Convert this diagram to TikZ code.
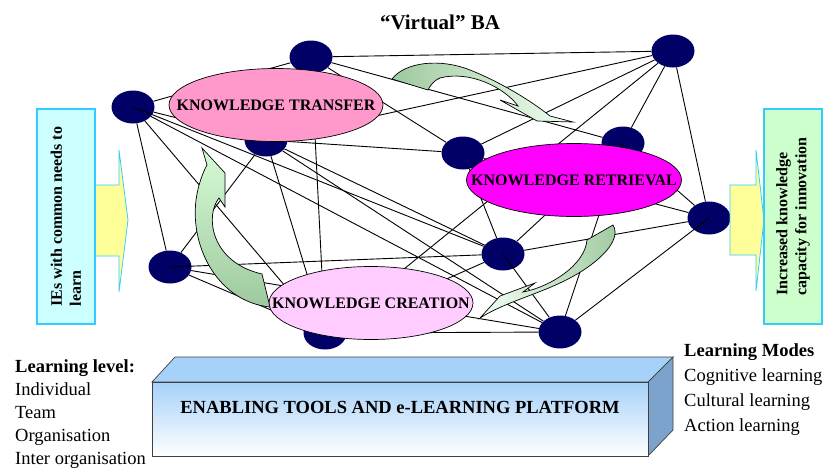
\documentclass[tikz,border=0pt]{standalone}
\usepackage{fontspec}
\setmainfont{Liberation Serif}
\usetikzlibrary{shapes.geometric}

\definecolor{navy}{HTML}{000066}
\definecolor{ktpink}{HTML}{FF99CC}
\definecolor{krmagenta}{HTML}{FF00FF}
\definecolor{kcpink}{HTML}{FFCCFF}
\definecolor{boxcyan}{HTML}{CCFFFF}
\definecolor{boxgreen}{HTML}{CCFFCC}
\definecolor{edgecyan}{HTML}{33CCFF}
\definecolor{arrowyellow}{HTML}{FFFF99}
\definecolor{gdark}{HTML}{9EC99E}
\definecolor{glight}{HTML}{F2FFF2}
\definecolor{gpale}{HTML}{D6FBD6}
\definecolor{platblue}{HTML}{A6D1F9}
\definecolor{platside}{HTML}{7BA3CC}

\begin{document}
\begin{tikzpicture}[x=1pt, y=-1pt,
    every node/.style={inner sep=0pt},
    peer/.style={ellipse, fill=navy, minimum width=43pt, minimum height=33pt},
    link/.style={line width=0.9pt},
    bubble/.style={ellipse, draw, line width=0.7pt, minimum height=73pt},
    blabel/.style={font=\fontsize{16}{19}\selectfont\bfseries},
    sidebox/.style={draw=edgecyan, line width=1.2pt, rotate=90, minimum width=215pt,
        minimum height=58pt, align=left, font=\fontsize{16}{19}\selectfont\bfseries},
    inarrow/.style={draw=edgecyan, fill=arrowyellow, line width=0.8pt},
    swoosh/.style={draw, line width=0.7pt},
    listtext/.style={align=left, anchor=north west}]
    \useasboundingbox (0,0) rectangle (828,469);

    % Title
    \node[anchor=base, font=\fontsize{21}{25}\selectfont\bfseries] (ba) at (440,29) {“Virtual” BA};

    % Peers of the virtual BA
    \node[peer] (1) at (133,107) {};
    \node[peer] (2) at (311,57) {};
    \node[peer] (3) at (266,140) {};
    \node[peer] (4) at (673,51) {};
    \node[peer] (5) at (463,153) {};
    \node[peer] (6) at (623,143) {};
    \node[peer] (7) at (709,218) {};
    \node[peer] (8) at (170,267) {};
    \node[peer] (9) at (503,254) {};
    \node[peer] (10) at (560,332) {};
    \node[peer] (11) at (325,333) {};

    \foreach \u/\v in {1/2,1/3,1/8,1/11,1/10, 2/4,2/5,2/6,2/11,
        3/4,3/5,3/8,3/9,3/10,3/11, 4/5,4/6,4/7,4/11, 5/9,5/7,
        6/7,6/9, 7/9, 8/10,8/11, 9/11, 10/11}
        \draw[link] (\u) -- (\v);
    \foreach \u/\v in {1/9, 8/9, 9/10, 7/10, 6/10}
        \draw[link] (\u.center) -- (\v);

    % Knowledge processes
    \node[bubble, fill=ktpink, minimum width=214pt,
        label={[blabel]center:KNOWLEDGE TRANSFER}] (transfer) at (276,105) {};
    \node[bubble, fill=krmagenta, minimum width=215pt,
        label={[blabel]center:KNOWLEDGE RETRIEVAL}] (retrieval) at (574,180) {};
    \node[bubble, fill=kcpink, minimum width=204pt,
        label={[blabel]center:KNOWLEDGE CREATION}] (creation) at (371,303) {};

    % Cycle arrows
    \draw[swoosh, left color=gdark, right color=glight]
        (392,79) .. controls (405,62) and (440,58) .. (470,70)
        .. controls (500,82) and (530,100) .. (550,116) -- (573,122) -- (537,121)
        -- (500,100) -- (518,106) .. controls (505,88) and (470,70) .. (440,78)
        .. controls (433,81) and (430,86) .. (428,90) -- cycle;
    \draw[swoosh, top color=gpale, bottom color=gdark]
        (202,148) -- (225,173) -- (225,207) -- (219,198)
        .. controls (205,215) and (210,262) .. (262,274) -- (270,307)
        .. controls (220,302) and (190,250) .. (196,200)
        .. controls (198,185) and (203,172) .. (207,165) -- cycle;
    \draw[swoosh, left color=glight, right color=gdark]
        (480,318) -- (500,296) -- (535,283) -- (523,292)
        .. controls (550,287) and (585,265) .. (587,240) -- (613,225)
        .. controls (622,240) and (600,262) .. (570,278)
        .. controls (540,294) and (505,302) .. (480,318) -- cycle;

    % Input and output
    \draw[inarrow] (95,185) -- (119,185) -- (119,150) -- (128,220) -- (119,292) -- (119,256) -- (95,256) -- cycle;
    \draw[inarrow] (730,185) -- (756,185) -- (756,150) -- (764,220) -- (756,291) -- (756,255) -- (730,255) -- cycle;
    \node[sidebox, fill=boxcyan] (ies) at (66,216.5) {IEs with common needs to\\learn};
    \node[sidebox, fill=boxgreen] (capacity) at (793,216.5) {Increased knowledge\\capacity for innovation};

    % Platform
    \draw[line width=0.7pt, draw=black!75, fill=platblue] (152,382) -- (175,357) -- (673,357) -- (648,382) -- cycle;
    \draw[line width=0.7pt, draw=black!75, fill=platside] (648,382) -- (673,357) -- (673,430) -- (648,456) -- cycle;
    \draw[line width=0.7pt, draw=black!75, top color=platblue, bottom color=white] (152,382) rectangle (648,456);
    \node[anchor=base, font=\fontsize{18.5}{22}\selectfont\bfseries] (platform) at (400,413)
        {ENABLING TOOLS AND e-LEARNING PLATFORM};

    % Learning levels and modes
    \node[listtext, font=\fontsize{18.5}{23}\selectfont] (levels) at (15,359)
        {\textbf{Learning level:}\\Individual\\Team\\Organisation\\Inter organisation};
    \node[listtext, font=\fontsize{18.5}{25}\selectfont] (modes) at (684,343)
        {\textbf{Learning Modes}\\Cognitive learning\\Cultural learning\\Action learning};
\end{tikzpicture}
\end{document}
